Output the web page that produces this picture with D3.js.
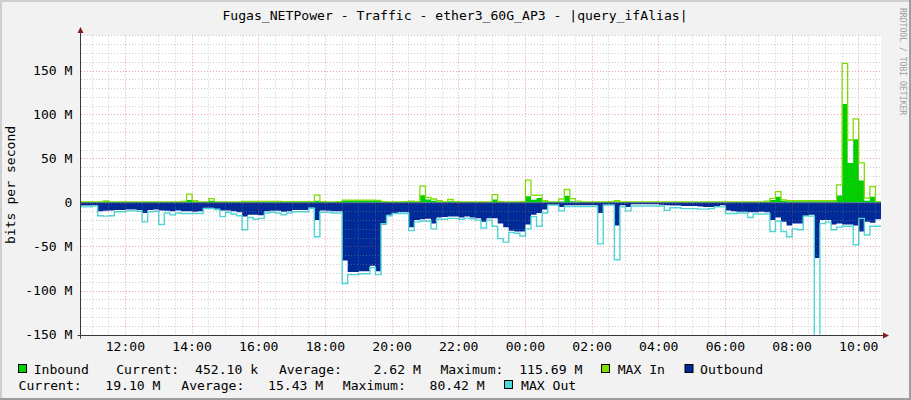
<!DOCTYPE html>
<html>
<head>
<meta charset="utf-8">
<script src="https://cdn.jsdelivr.net/npm/d3@7/dist/d3.min.js"></script>
<style>
  html, body { margin: 0; padding: 0; background: #fff; }
  svg text { font-family: "DejaVu Sans Mono", monospace; white-space: pre; }
</style>
</head>
<body>
<svg id="chart" width="911" height="400"></svg>
<script>
// ---------------- DATA (values in Mbit/s, 10-minute steps from 10:41) ----------------
const startTime = new Date(2024, 0, 1, 10, 41);
const stepMinutes = 10;

const inbound = [
  0.5,0.5,0.5,0.6,1.5,0.6,0.5,0.5,0.5,0.5,
  0.5,0.5,0.5,0.5,0.5,0.5,0.5,0.5,0.8,2.7,
  1.0,0.5,0.6,2.0,0.6,0.5,0.5,0.5,0.6,1.1,
  1.1,1.1,1.1,1.1,1.1,1.0,0.9,0.8,0.8,0.7,
  0.6,0.8,2.0,0.6,0.5,0.5,0.6,2.3,2.3,2.3,
  2.3,2.3,2.3,2.0,0.6,0.5,0.5,0.5,0.8,1.3,
  0.6,8.3,3.4,2.0,1.0,0.5,1.5,0.6,0.5,0.5,
  0.5,0.5,0.5,0.5,3.4,0.6,0.5,0.5,0.5,0.6,
  7.0,3.0,5.0,1.0,0.5,0.5,1.0,7.6,1.5,0.8,
  0.5,0.5,0.5,0.5,0.5,0.6,1.0,0.5,0.5,0.4,
  0.4,0.4,0.4,0.4,0.4,0.4,0.4,0.4,0.4,0.4,
  0.4,0.4,0.4,0.4,0.4,0.4,0.4,0.5,0.5,0.5,
  0.5,0.5,0.5,0.8,2.8,6.6,2.0,1.5,1.5,1.5,
  1.5,1.5,1.5,1.5,1.5,1.5,8.0,112,45,72,
  25,2.0,6.6,0.45,0.45
];

const maxIn = [
  0.8,0.8,0.8,0.8,1.8,0.8,0.8,0.8,0.8,0.8,
  0.8,0.8,0.8,0.8,0.8,0.8,0.8,0.8,1.2,9.5,
  2.0,0.8,0.8,4.5,0.8,0.8,0.8,0.8,0.8,1.3,
  1.3,1.3,1.3,1.3,1.3,1.2,1.1,1.0,1.0,1.0,
  0.9,1.0,8.3,0.9,0.8,0.8,0.9,2.7,2.7,2.7,
  2.7,2.7,2.7,2.5,0.9,0.8,0.8,0.8,1.0,1.6,
  0.9,18.5,5.7,4.0,2.0,0.8,3.4,1.0,0.8,0.8,
  0.8,0.8,0.8,0.8,9.0,1.0,0.8,0.8,0.8,1.0,
  25.5,8.0,8.3,2.0,0.8,0.8,4.0,14.8,4.5,1.5,
  0.8,0.8,0.8,0.8,0.8,1.0,2.0,0.8,0.8,0.7,
  0.7,0.7,0.7,0.7,0.7,0.7,0.7,0.7,0.7,0.7,
  0.7,0.7,0.7,0.7,0.7,0.7,0.7,0.8,0.8,0.8,
  0.8,0.8,0.8,1.5,4.7,12.3,3.0,2.0,2.0,2.0,
  2.0,2.0,2.0,2.0,2.0,2.0,20,158,71,95,
  45,5.0,18,1.0,1.0
];

const outbound = [
  3.5,3.5,3.0,10,9.5,9.0,8.5,8.5,8.0,8.0,
  8.5,12,8.5,8.0,9.0,9.5,10,9.0,10,10,
  10.5,10,6.0,6.0,7.0,9.0,9.0,10,11,16,
  14,14,14.5,10,9.5,9.5,10.5,10,8.5,8.5,
  8.5,6.0,20,9.0,9.5,10,10,66,79,79,
  78,78,72,78,25,14,12,11,11,28,
  20,19,18.5,24,17,16.5,16,16,17,16,
  17,18,22,18,18,24,28,32,33,33,
  25,14,12,8,2.5,2.5,5.0,3.0,3.0,3.0,
  3.0,3.0,3.0,12,2.5,2.5,26,3.0,5.0,2.0,
  2.0,2.0,2.0,2.0,2.5,3.0,3.5,3.5,4.0,4.0,
  4.0,4.5,5.0,5.0,4.5,3.0,9.0,10,10.5,10.5,
  11,11,10.5,11,20,17,22,26,24,24,
  15,14,63,20,20,25,24,25,25,26,
  33,22,23,19.1,19.1
];

const maxOut = [
  5,5,4,15,15.5,15,10.5,10.5,9.5,9.5,
  10,22,10.5,10,25,12,14,12,12.5,12.5,
  12.5,12.5,7,7,8,16,11,13,15,31,
  17,19,18,12,11,12,14,12,10.5,10.5,
  10.5,6.5,39,11,11,12,12,92,82,82,
  81,81,74,82,24,15,12.5,12.5,12.5,32,
  22,21,21,30,19,19,18,18,19,18,
  18.5,20,29,20,27,41,45,34,35,38,
  30,16,27,12,3,3,9.5,4.5,4.5,4.5,
  4.5,4.5,4.5,47,3,3,65,5,9.5,4,
  4,4,4,4,4,9,6,6,7,7,
  7,7.5,7.5,7,5,5,12.5,12.5,12,12,
  17,13,13,13,33,21,33,39,30,31,
  15.5,15.5,170,24,22,31,28,27,27,48,
  18,37,27,27,27
];

const yTickValues = [-150, -100, -50, 0, 50, 100, 150];
const yTickLabels = ["-150 M", "-100 M", "-50 M", "0", "50 M", "100 M", "150 M"];

const titleText = "Fugas_NETPower - Traffic - ether3_60G_AP3 - |query_ifAlias|";
const yAxisTitle = "bits per second";

const seriesNames = ["Inbound", "MAX In", "Outbound", "MAX Out"];
const seriesColors = ["#00CF00", "#7FE000", "#002A97", "#4FD6D6"];

const legendRow1 = [
  [33.7, "Inbound"], [116.2, "Current:  452.10 k"], [278.9, "Average:    2.62 M"],
  [440.4, "Maximum:  115.69 M"], [617.7, "MAX In"], [700, "Outbound"]
];
const legendRow2 = [
  [18.6, "Current:   19.10 M"], [181.3, "Average:   15.43 M"],
  [342.8, "Maximum:   80.42 M"], [521, "MAX Out"]
];
const legendSwatches = [[18, 364, 0], [601, 364, 1], [684.5, 364, 2], [504, 380, 3]];

// ---------------- DRAWING ----------------
const W = 911, H = 400;
const plot = { left: 81, right: 881, top: 35.3, bottom: 334.5 };
const svg = d3.select("#chart");

const times = inbound.map((_, i) => new Date(startTime.getTime() + i * stepMinutes * 60000));
const endTime = times[times.length - 1];

const x = d3.scaleTime().domain([startTime, endTime]).range([plot.left, plot.right]);
const y = d3.scaleLinear().domain([-150, 190]).range([plot.bottom, plot.top]);

// background + 3D frame
svg.append("rect").attr("x", 0).attr("y", 0).attr("width", W).attr("height", H).attr("fill", "#F2F2F2");
svg.append("path").attr("d", `M0,0H${W}V2H2V${H}H0Z`).attr("fill", "#CFCFCF");
svg.append("path").attr("d", `M${W},${H}H0V${H-2}H${W-2}V0H${W}Z`).attr("fill", "#9E9E9E");

// canvas
svg.append("rect").attr("x", plot.left).attr("y", plot.top)
  .attr("width", plot.right - plot.left).attr("height", plot.bottom - plot.top).attr("fill", "#FFFFFF");

const defs = svg.append("defs");
defs.append("clipPath").attr("id", "clip").append("rect")
  .attr("x", plot.left).attr("y", plot.top)
  .attr("width", plot.right - plot.left).attr("height", plot.bottom - plot.top);

const g = svg.append("g").attr("clip-path", "url(#clip)");

const areaIn = d3.area().x((d, i) => x(times[i])).y0(y(0)).y1(d => y(d)).curve(d3.curveStepAfter);
const lineIn = d3.line().x((d, i) => x(times[i])).y(d => y(d)).curve(d3.curveStepAfter);
const areaOut = d3.area().x((d, i) => x(times[i])).y0(y(0)).y1(d => y(-d)).curve(d3.curveStepAfter);
const lineOut = d3.line().x((d, i) => x(times[i])).y(d => y(-d)).curve(d3.curveStepAfter);

g.append("path").datum(inbound).attr("d", areaIn).attr("fill", seriesColors[0]);
g.append("path").datum(maxIn).attr("d", lineIn).attr("fill", "none").attr("stroke", seriesColors[1]).attr("stroke-width", 1.3);
g.append("path").datum(outbound).attr("d", areaOut).attr("fill", seriesColors[2]);
g.append("path").datum(maxOut).attr("d", lineOut).attr("fill", "none").attr("stroke", seriesColors[3]).attr("stroke-width", 1.4);

// grid (drawn on top, like rrdtool)
const gridMinor = "rgba(143,143,143,0.45)";
const gridMajor = "rgba(230,70,70,0.5)";
const grid = svg.append("g");
const yMinor = d3.range(-140, 191, 10).filter(v => v % 50 !== 0);
yMinor.forEach(v => {
  const yy = Math.round(y(v)) + 0.5;
  grid.append("line").attr("x1", plot.left).attr("x2", plot.right).attr("y1", yy).attr("y2", yy)
    .attr("stroke", gridMinor).attr("stroke-dasharray", "1,2");
});
const xMinor = x.ticks(d3.timeMinute.every(30)).filter(t => !(t.getMinutes() === 0 && t.getHours() % 2 === 0));
xMinor.forEach(t => {
  const xx = Math.round(x(t)) + 0.5;
  grid.append("line").attr("x1", xx).attr("x2", xx).attr("y1", plot.top).attr("y2", plot.bottom)
    .attr("stroke", gridMinor).attr("stroke-dasharray", "1,2");
});
yTickValues.forEach(v => {
  const yy = Math.round(y(v)) + 0.5;
  grid.append("line").attr("x1", plot.left).attr("x2", plot.right).attr("y1", yy).attr("y2", yy)
    .attr("stroke", gridMajor).attr("stroke-dasharray", "1,2");
});
const xMajor = x.ticks(d3.timeHour.every(2));
xMajor.forEach(t => {
  const xx = Math.round(x(t)) + 0.5;
  grid.append("line").attr("x1", xx).attr("x2", xx).attr("y1", plot.top).attr("y2", plot.bottom)
    .attr("stroke", gridMajor).attr("stroke-dasharray", "1,2");
});

// axes
const axisColor = "#3A3A3A";
const arrowColor = "#7F1F1F";
const ax = Math.round(plot.left) - 0.5;
const ay = Math.round(plot.bottom) + 0.5;
svg.append("line").attr("x1", ax).attr("x2", ax).attr("y1", ay + 3).attr("y2", 32).attr("stroke", axisColor);
svg.append("line").attr("x1", ax - 3).attr("x2", 884).attr("y1", ay).attr("y2", ay).attr("stroke", axisColor);
svg.append("path").attr("d", `M${ax - 3},${33}L${ax},${27}L${ax + 3},${33}Z`).attr("fill", arrowColor);
svg.append("path").attr("d", `M${883},${ay - 3}L${889},${ay}L${883},${ay + 3}Z`).attr("fill", arrowColor);

// y tick labels
const fontSize = 13.1;
const yAxisG = svg.append("g");
yTickValues.forEach((v, k) => {
  yAxisG.append("text").attr("x", 72.5).attr("y", y(v) + 4.5)
    .attr("text-anchor", "end").attr("font-size", fontSize).attr("fill", "#000").text(yTickLabels[k]);
});

// x tick labels
const fmt = d3.timeFormat("%H:%M");
xMajor.forEach(t => {
  svg.append("text").attr("x", x(t) + 0.5).attr("y", 351)
    .attr("text-anchor", "middle").attr("font-size", fontSize).attr("fill", "#000").text(fmt(t));
});

// titles
svg.append("text").attr("x", 455).attr("y", 20).attr("text-anchor", "middle")
  .attr("font-size", fontSize).attr("fill", "#000").text(titleText);
svg.append("text").attr("transform", `translate(15,${(plot.top + plot.bottom) / 2}) rotate(-90)`)
  .attr("text-anchor", "middle").attr("font-size", fontSize).attr("fill", "#000").text(yAxisTitle);

// watermark
svg.append("text").attr("transform", "translate(899.5,8) rotate(90)")
  .attr("font-size", 8.1).attr("fill", "#A0A0A0").text("RRDTOOL / TOBI OETIKER");

// legend
legendSwatches.forEach(([sx, sy, k]) => {
  svg.append("rect").attr("x", sx + 0.5).attr("y", sy + 0.5).attr("width", 8).attr("height", 8)
    .attr("fill", seriesColors[k]).attr("stroke", "#000").attr("stroke-width", 1);
});
legendRow1.forEach(([lx, s]) => {
  svg.append("text").attr("x", lx).attr("y", 373.5).attr("font-size", fontSize).attr("fill", "#000").text(s);
});
legendRow2.forEach(([lx, s]) => {
  svg.append("text").attr("x", lx).attr("y", 389.5).attr("font-size", fontSize).attr("fill", "#000").text(s);
});
</script>
</body>
</html>
